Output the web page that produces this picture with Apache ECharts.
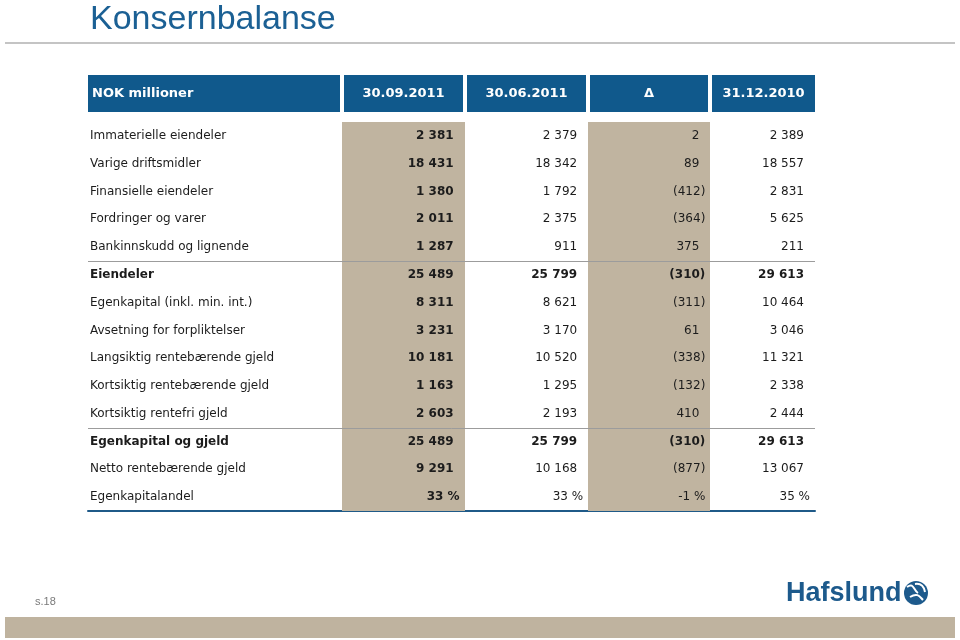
<!DOCTYPE html>
<html>
<head>
<meta charset="utf-8">
<title>Konsernbalanse</title>
<script src="https://cdn.jsdelivr.net/npm/echarts/dist/echarts.min.js"></script>
<style>
  html, body { margin: 0; padding: 0; background: #fff; }
  #chart { width: 960px; height: 640px; }
</style>
</head>
<body>
<div id="chart"></div>
<script>
var columns = ['NOK millioner', '30.09.2011', '30.06.2011', 'Δ', '31.12.2010']
var rows = [
  'Immaterielle eiendeler',
  'Varige driftsmidler',
  'Finansielle eiendeler',
  'Fordringer og varer',
  'Bankinnskudd og lignende',
  'Eiendeler',
  'Egenkapital (inkl. min. int.)',
  'Avsetning for forpliktelser',
  'Langsiktig rentebærende gjeld',
  'Kortsiktig rentebærende gjeld',
  'Kortsiktig rentefri gjeld',
  'Egenkapital og gjeld',
  'Netto rentebærende gjeld',
  'Egenkapitalandel'
]
var sep2011 = [2381, 18431, 1380, 2011, 1287, 25489, 8311, 3231, 10181, 1163, 2603, 25489, 9291, 33]
var jun2011 = [2379, 18342, 1792, 2375, 911, 25799, 8621, 3170, 10520, 1295, 2193, 25799, 10168, 33]
var delta = [2, 89, -412, -364, 375, -310, -311, 61, -338, -132, 410, -310, -877, -1]
var dec2010 = [2389, 18557, 2831, 5625, 211, 29613, 10464, 3046, 11321, 2338, 2444, 29613, 13067, 35]
var totalRows = ['Eiendeler', 'Egenkapital og gjeld']
var percentRows = ['Egenkapitalandel']

var valueCols = [null, sep2011, jun2011, delta, dec2010]

// column edges in percent of table width
var colEdges = [0, 34.9, 51.8, 68.8, 85.6, 100]
var shadedCols = [false, true, false, true, false]
var blue = '#10598c'
var tan = '#c0b4a0'
var textColor = '#1c1c1c'
var font = 'DejaVu Sans, Verdana, sans-serif'

function fmt(v, isPct) {
  if (isPct) return v + ' %'
  var s = String(Math.abs(v)).replace(/\B(?=(\d{3})+(?!\d))/g, ' ')
  return v < 0 ? '(' + s + ')' : s
}

function renderHeader(params, api) {
  var col = api.value(0)
  var a = api.coord([colEdges[col], 0])
  var b = api.coord([colEdges[col + 1], 0])
  var h = api.size([0, 1])[1]
  var x0 = Math.round(col === 0 ? a[0] : a[0] + 2)
  var x1 = Math.round(col === columns.length - 1 ? b[0] : b[0] - 2)
  return {
    type: 'group',
    children: [
      {
        type: 'rect',
        shape: { x: x0, y: Math.round(a[1] - h / 2), width: x1 - x0, height: Math.round(h) },
        style: { fill: blue }
      },
      {
        type: 'text',
        style: {
          text: columns[col],
          x: col === 0 ? x0 + 4 : (x0 + x1) / 2,
          y: a[1],
          align: col === 0 ? 'left' : 'center',
          verticalAlign: 'middle',
          fill: '#fff',
          fontFamily: font,
          fontSize: 13,
          fontWeight: 'bold'
        }
      }
    ]
  }
}

function renderCell(params, api) {
  var col = api.value(0)
  var row = api.value(1)
  var a = api.coord([colEdges[col], row])
  var b = api.coord([colEdges[col + 1], row])
  var h = api.size([0, 1])[1]
  var cy = a[1]
  var name = rows[row]
  var isTotal = totalRows.indexOf(name) >= 0
  var isPct = percentRows.indexOf(name) >= 0
  var children = []

  if (shadedCols[col]) {
    var y0 = Math.round(cy - h / 2)
    var y1 = Math.round(cy + h / 2)
    var rx0 = Math.round(a[0])
    var rx1 = Math.round(b[0])
    children.push({
      type: 'rect',
      shape: { x: rx0, y: y0, width: rx1 - rx0, height: y1 - y0 },
      style: { fill: tan }
    })
  }

  if (col === 0) {
    children.push({
      type: 'text',
      style: {
        text: name,
        x: a[0] + 2,
        y: cy,
        align: 'left',
        verticalAlign: 'middle',
        fill: textColor,
        fontFamily: font,
        fontSize: 12,
        fontWeight: isTotal ? 'bold' : 'normal'
      }
    })
  } else {
    var v = valueCols[col][row]
    var hang = (isPct || v < 0) ? 6 : 0
    children.push({
      type: 'text',
      style: {
        text: fmt(v, isPct),
        x: b[0] - 11 + hang,
        y: cy,
        align: 'right',
        verticalAlign: 'middle',
        fill: textColor,
        fontFamily: font,
        fontSize: 12,
        fontWeight: (isTotal || col === 1) ? 'bold' : 'normal'
      }
    })
  }

  if (col === columns.length - 1 && isTotal) {
    var left = api.coord([0, row])[0]
    var right = api.coord([100, row])[0]
    var ly = Math.round(cy - h / 2) + 0.5
    children.push({
      type: 'line',
      shape: { x1: left, y1: ly, x2: right, y2: ly },
      style: { stroke: '#9c9c9c', lineWidth: 1 }
    })
  }

  return { type: 'group', children: children }
}

var headerData = columns.map(function (c, i) { return [i, 0] })
var cellData = []
rows.forEach(function (r, ri) {
  columns.forEach(function (c, ci) {
    cellData.push([ci, ri])
  })
})

var chart = echarts.init(document.getElementById('chart'))
chart.setOption({
  animation: false,
  backgroundColor: '#fff',
  title: {
    text: 'Konsernbalanse',
    left: 85,
    top: -2,
    textStyle: {
      color: '#1b6094',
      fontFamily: 'Liberation Sans, Arial, sans-serif',
      fontSize: 34,
      fontWeight: 'normal'
    }
  },
  grid: [
    { left: 88, top: 122, width: 727, height: 389 },
    { left: 88, top: 75, width: 727, height: 37 }
  ],
  xAxis: [
    {
      gridIndex: 0,
      type: 'value',
      min: 0,
      max: 100,
      position: 'bottom',
      axisLine: { show: true, onZero: false, lineStyle: { color: '#1f5a88', width: 2 } },
      axisTick: { show: false },
      axisLabel: { show: false },
      splitLine: { show: false }
    },
    {
      gridIndex: 1,
      type: 'value',
      min: 0,
      max: 100,
      show: false
    }
  ],
  yAxis: [
    { gridIndex: 0, type: 'category', data: rows, inverse: true, show: false },
    { gridIndex: 1, type: 'category', data: ['header'], show: false }
  ],
  graphic: [
    {
      type: 'line',
      shape: { x1: 5, y1: 43, x2: 955, y2: 43 },
      style: { stroke: '#c4c4c4', lineWidth: 2 }
    },
    {
      type: 'text',
      style: {
        text: 's.18',
        x: 35,
        y: 602,
        verticalAlign: 'middle',
        fill: '#7a7a7a',
        fontFamily: 'Liberation Sans, Arial, sans-serif',
        fontSize: 11
      }
    },
    {
      type: 'text',
      style: {
        text: 'Hafslund',
        x: 786,
        y: 594,
        verticalAlign: 'middle',
        fill: '#1d5a8c',
        fontFamily: 'Liberation Sans, Arial, sans-serif',
        fontSize: 27,
        fontWeight: 'bold'
      }
    },
    {
      type: 'circle',
      shape: { cx: 916, cy: 593, r: 12 },
      style: { fill: '#1d5a8c' }
    },
    {
      type: 'bezierCurve',
      shape: { x1: 907, y1: 587, cpx1: 914, cpy1: 582, x2: 918, y2: 593, cpx2: 913, cpy2: 590 },
      style: { stroke: '#fff', lineWidth: 2, fill: null }
    },
    {
      type: 'bezierCurve',
      shape: { x1: 910, y1: 597, cpx1: 918, cpy1: 592, x2: 923, y2: 600, cpx2: 920, cpy2: 597 },
      style: { stroke: '#fff', lineWidth: 2, fill: null }
    },
    {
      type: 'bezierCurve',
      shape: { x1: 915, y1: 584, cpx1: 922, cpy1: 583, x2: 925, y2: 592, cpx2: 924, cpy2: 587 },
      style: { stroke: '#fff', lineWidth: 2, fill: null }
    },
    {
      type: 'rect',
      shape: { x: 5, y: 617, width: 950, height: 21 },
      style: { fill: '#bfb39f' }
    }
  ],
  series: [
    {
      type: 'custom',
      name: 'header',
      xAxisIndex: 1,
      yAxisIndex: 1,
      renderItem: renderHeader,
      data: headerData,
      silent: true
    },
    {
      type: 'custom',
      name: 'cells',
      xAxisIndex: 0,
      yAxisIndex: 0,
      renderItem: renderCell,
      data: cellData,
      clip: false,
      silent: true
    }
  ]
})
</script>
</body>
</html>
